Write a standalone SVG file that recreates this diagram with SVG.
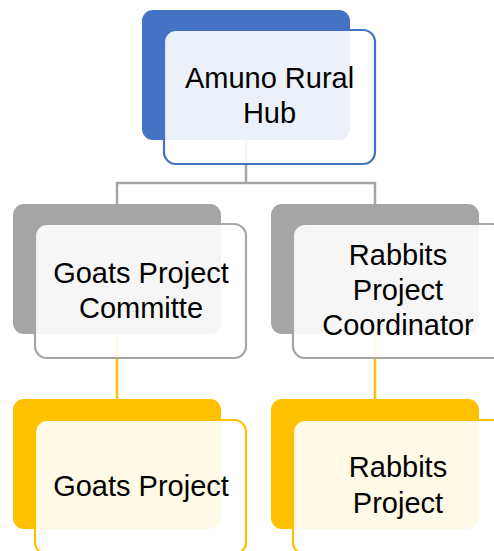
<svg xmlns="http://www.w3.org/2000/svg" width="494" height="551" viewBox="0 0 494 551">
<style>
.t{font-family:"Liberation Sans",Arial,sans-serif;font-size:29px;fill:#000;text-anchor:middle}
.front{fill:#fff;fill-opacity:0.9;stroke-width:2.2}
.blue .back{fill:#4472C4}.blue .front{stroke:#4472C4}
.gray .back{fill:#A5A5A5}.gray .front{stroke:#A5A5A5}
.gold .back{fill:#FFC000}.gold .front{stroke:#FFC000}
</style>
<g id="connectors" fill="none" stroke-width="2.5">
<path d="M246 140 V183 M117 183 H375 M117 182 V204 M375 182 V204" stroke="#A5A5A5"/>
<path d="M117 334 V399 M375 334 V399" stroke="#FFC000"/>
</g>
<g id="amuno" class="blue">
<rect class="back" x="142" y="10" width="208" height="130" rx="11"/>
<rect class="front" x="164" y="30" width="211" height="134" rx="12"/>
<text class="t" x="269.5" y="88">Amuno Rural</text>
<text class="t" x="269.5" y="123">Hub</text>
</g>
<g id="goats-committe" class="gray">
<rect class="back" x="13" y="204" width="208" height="130" rx="11"/>
<rect class="front" x="35" y="224" width="211" height="134" rx="12"/>
<text class="t" x="141" y="283">Goats Project</text>
<text class="t" x="141" y="318">Committe</text>
</g>
<g id="rabbits-coordinator" class="gray">
<rect class="back" x="271" y="204" width="208" height="130" rx="11"/>
<rect class="front" x="293" y="224" width="211" height="134" rx="12"/>
<text class="t" x="398" y="265">Rabbits</text>
<text class="t" x="398" y="300">Project</text>
<text class="t" x="398" y="335">Coordinator</text>
</g>
<g id="goats-project" class="gold">
<rect class="back" x="13" y="399" width="208" height="130" rx="11"/>
<rect class="front" x="35" y="420" width="211" height="134" rx="12"/>
<text class="t" x="141" y="496">Goats Project</text>
</g>
<g id="rabbits-project" class="gold">
<rect class="back" x="271" y="399" width="208" height="130" rx="11"/>
<rect class="front" x="293" y="420" width="211" height="134" rx="12"/>
<text class="t" x="398" y="477">Rabbits</text>
<text class="t" x="398" y="513">Project</text>
</g>
</svg>
